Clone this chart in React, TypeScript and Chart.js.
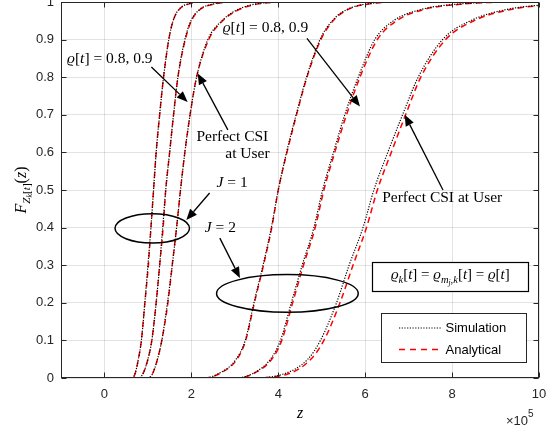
import React, { useEffect, useRef } from "react";
import { Chart, registerables } from "chart.js";
Chart.register(...registerables);

// CDF levels shared by all curves
const yLevels = [0, 0.01, 0.05, 0.1, 0.2, 0.3, 0.4, 0.5, 0.6, 0.7, 0.8, 0.9, 0.95, 0.98, 0.995, 1];
// z (x10^5) where each curve reaches the levels above
const anaJ1a = [0.62, 0.7, 0.78, 0.85, 0.93, 1.01, 1.07, 1.13, 1.19, 1.27, 1.36, 1.48, 1.58, 1.72, 1.95, 2.3];
const simJ1a = [0.62, 0.7, 0.78, 0.85, 0.93, 1.0, 1.07, 1.13, 1.19, 1.27, 1.36, 1.48, 1.58, 1.71, 1.93, 2.3];
const anaJ1b = [0.78, 0.88, 1.0, 1.09, 1.19, 1.27, 1.35, 1.41, 1.5, 1.59, 1.69, 1.86, 2.0, 2.2, 2.55, 3.0];
const simJ1b = [0.78, 0.88, 1.0, 1.09, 1.19, 1.27, 1.34, 1.41, 1.5, 1.59, 1.69, 1.85, 1.99, 2.19, 2.52, 3.0];
const anaJ1c = [1.0, 1.1, 1.22, 1.32, 1.46, 1.56, 1.66, 1.75, 1.85, 1.97, 2.12, 2.4, 2.72, 3.1, 3.55, 4.3];
const simJ1c = [1.0, 1.1, 1.22, 1.32, 1.45, 1.56, 1.66, 1.75, 1.85, 1.97, 2.12, 2.38, 2.7, 3.07, 3.5, 4.3];
const anaJ2a = [2.3, 2.62, 3.05, 3.25, 3.45, 3.66, 3.85, 4.0, 4.2, 4.42, 4.66, 4.98, 5.26, 5.6, 6.1, 6.9];
const simJ2a = [2.3, 2.6, 3.03, 3.24, 3.44, 3.65, 3.84, 4.0, 4.19, 4.41, 4.65, 4.96, 5.24, 5.58, 6.05, 6.9];
const anaJ2b = [3.0, 3.4, 3.85, 4.08, 4.33, 4.58, 4.85, 5.05, 5.3, 5.57, 5.88, 6.28, 6.72, 7.35, 8.3, 9.6];
const simJ2b = [3.0, 3.38, 3.82, 4.05, 4.3, 4.55, 4.82, 5.02, 5.27, 5.53, 5.84, 6.22, 6.65, 7.28, 8.2, 9.6];
const anaJ2c = [3.3, 4.2, 4.75, 5.05, 5.42, 5.72, 6.03, 6.28, 6.6, 6.93, 7.28, 7.85, 8.5, 9.35, 10.6, 12.0];
const simJ2c = [3.3, 4.1, 4.68, 4.97, 5.34, 5.63, 5.95, 6.2, 6.52, 6.86, 7.22, 7.78, 8.42, 9.25, 10.5, 12.0];

const xTickValues = [0, 2, 4, 6, 8, 10];
const xTickLabels = ["0", "2", "4", "6", "8", "10"];
const yTickValues = [0, 0.1, 0.2, 0.3, 0.4, 0.5, 0.6, 0.7, 0.8, 0.9, 1];
const yTickLabels = ["0", "0.1", "0.2", "0.3", "0.4", "0.5", "0.6", "0.7", "0.8", "0.9", "1"];
const legendLabels = ["Simulation", "Analytical"];

const X_MIN = -1;
const X_MAX = 10;

const SERIF = "'Liberation Serif', 'DejaVu Serif', serif";
const SANS = "'Liberation Sans', Arial, Helvetica, sans-serif";
const AXIS = "#262626";

type Seg = { t: string; i?: boolean; s?: number; dy?: number };

const rhoLabel: Seg[] = [{ t: "ϱ", i: true }, { t: "[" }, { t: "t", i: true }, { t: "] = 0.8, 0.9" }];
const j1Label: Seg[] = [{ t: "J", i: true }, { t: " = 1" }];
const j2Label: Seg[] = [{ t: "J", i: true }, { t: " = 2" }];
const boxLabel: Seg[] = [
  { t: "ϱ", i: true }, { t: "k", i: true, s: 0.7, dy: 0.22 }, { t: "[" }, { t: "t", i: true }, { t: "] = " },
  { t: "ϱ", i: true }, { t: "m", i: true, s: 0.7, dy: 0.22 }, { t: "j", i: true, s: 0.5, dy: 0.36 },
  { t: ",", s: 0.7, dy: 0.22 }, { t: "k", i: true, s: 0.7, dy: 0.22 },
  { t: "[" }, { t: "t", i: true }, { t: "] = " }, { t: "ϱ", i: true }, { t: "[" }, { t: "t", i: true }, { t: "]" },
];
const yTitle: Seg[] = [
  { t: "F", i: true }, { t: "Z", i: true, s: 0.7, dy: 0.22 }, { t: "k", i: true, s: 0.5, dy: 0.36 },
  { t: "[", s: 0.7, dy: 0.22 }, { t: "t", i: true, s: 0.7, dy: 0.22 }, { t: "]", s: 0.7, dy: 0.22 },
  { t: "(" }, { t: "z", i: true }, { t: ")" },
];

const textNotes = [
  { segs: rhoLabel, x: -0.86, y: 0.838, align: "left", size: 15.5 },
  { segs: [{ t: "Perfect CSI" }], x: 3.77, y: 0.629, align: "right", size: 15.5 },
  { segs: [{ t: "at User" }], x: 3.8, y: 0.585, align: "right", size: 15.5 },
  { segs: j1Label, x: 2.58, y: 0.508, align: "left", size: 15.5 },
  { segs: j2Label, x: 2.31, y: 0.388, align: "left", size: 15.5 },
  { segs: rhoLabel, x: 2.72, y: 0.92, align: "left", size: 15.5 },
  { segs: [{ t: "Perfect CSI at User" }], x: 6.39, y: 0.468, align: "left", size: 15.5 },
];
const arrows = [
  { x1: 1.08, y1: 0.827, x2: 1.915, y2: 0.734 },
  { x1: 2.84, y1: 0.66, x2: 2.146, y2: 0.81 },
  { x1: 2.42, y1: 0.492, x2: 1.884, y2: 0.42 },
  { x1: 2.655, y1: 0.372, x2: 3.118, y2: 0.266 },
  { x1: 4.66, y1: 0.903, x2: 5.88, y2: 0.722 },
  { x1: 7.79, y1: 0.5, x2: 6.91, y2: 0.7 },
];
const ellipses = [
  { cx: 1.1, cy: 0.398, rx: 0.857, ry: 0.039 },
  { cx: 4.21, cy: 0.225, rx: 1.63, ry: 0.05 },
];
const eqBox = { x1: 6.16, y1: 0.309, x2: 9.75, y2: 0.231, tx: 7.96, ty: 0.262 };
const legendBox = { x1: 6.375, y1: 0.172, x2: 9.71, y2: 0.043 };

function toPoints(xs: number[]) {
  const pts = [{ x: 0, y: 0 }];
  xs.forEach((x, i) => pts.push({ x, y: yLevels[i] }));
  if (xs[xs.length - 1] < X_MAX) pts.push({ x: X_MAX, y: 1 });
  return pts;
}

const segFont = (g: Seg, size: number) => `${g.i ? "italic " : ""}${(g.s || 1) * size}px ${SERIF}`;
function drawRich(ctx: CanvasRenderingContext2D, segs: Seg[], x: number, y: number, size: number, align: string) {
  let w = 0;
  for (const g of segs) { ctx.font = segFont(g, size); w += ctx.measureText(g.t).width; }
  let cx = align === "left" ? x : align === "center" ? x - w / 2 : x - w;
  ctx.textAlign = "left";
  ctx.textBaseline = "alphabetic";
  for (const g of segs) {
    ctx.font = segFont(g, size);
    ctx.fillText(g.t, cx, y + (g.dy || 0) * size);
    cx += ctx.measureText(g.t).width;
  }
}

function drawArrow(ctx: CanvasRenderingContext2D, x1: number, y1: number, x2: number, y2: number) {
  const ang = Math.atan2(y2 - y1, x2 - x1);
  const hl = 11, hw = 4.5;
  const bx = x2 - hl * Math.cos(ang), by = y2 - hl * Math.sin(ang);
  ctx.beginPath();
  ctx.moveTo(x1, y1);
  ctx.lineTo(bx, by);
  ctx.stroke();
  ctx.beginPath();
  ctx.moveTo(x2, y2);
  ctx.lineTo(bx + hw * Math.sin(ang), by - hw * Math.cos(ang));
  ctx.lineTo(bx - hw * Math.sin(ang), by + hw * Math.cos(ang));
  ctx.closePath();
  ctx.fill();
}

const overlayPlugin = {
  id: "overlay",
  afterDatasetsDraw(chart: any) {
    const { ctx, scales } = chart;
    const X = (v: number) => scales.x.getPixelForValue(v);
    const Y = (v: number) => scales.y.getPixelForValue(v);
    ctx.save();
    ctx.strokeStyle = "#000";
    ctx.lineWidth = 1.5;
    for (const e of ellipses) {
      ctx.beginPath();
      ctx.ellipse(X(e.cx), Y(e.cy), Math.abs(X(e.cx + e.rx) - X(e.cx)), Math.abs(Y(e.cy + e.ry) - Y(e.cy)), 0, 0, Math.PI * 2);
      ctx.stroke();
    }
    ctx.lineWidth = 1.3;
    ctx.fillStyle = "#000";
    for (const a of arrows) drawArrow(ctx, X(a.x1), Y(a.y1), X(a.x2), Y(a.y2));
    ctx.fillStyle = "#000";
    for (const n of textNotes) drawRich(ctx, n.segs as Seg[], X(n.x), Y(n.y), n.size, n.align);
    // equation box
    ctx.fillStyle = "#fff";
    const bx1 = Math.round(X(eqBox.x1)) + 0.5, by1 = Math.round(Y(eqBox.y1)) + 0.5;
    const bx2 = Math.round(X(eqBox.x2)) + 0.5, by2 = Math.round(Y(eqBox.y2)) + 0.5;
    ctx.fillRect(bx1, by1, bx2 - bx1, by2 - by1);
    ctx.strokeStyle = "#000";
    ctx.lineWidth = 1.2;
    ctx.strokeRect(bx1, by1, bx2 - bx1, by2 - by1);
    ctx.fillStyle = "#000";
    drawRich(ctx, boxLabel, X(eqBox.tx), Y(eqBox.ty), 15, "center");
    // legend
    const lx1 = Math.round(X(legendBox.x1)) + 0.5, ly1 = Math.round(Y(legendBox.y1)) + 0.5;
    const lx2 = Math.round(X(legendBox.x2)) + 0.5, ly2 = Math.round(Y(legendBox.y2)) + 0.5;
    ctx.fillStyle = "#fff";
    ctx.fillRect(lx1, ly1, lx2 - lx1, ly2 - ly1);
    ctx.strokeStyle = AXIS;
    ctx.lineWidth = 1;
    ctx.strokeRect(lx1, ly1, lx2 - lx1, ly2 - ly1);
    const rowY = [ly1 + 14.5, ly1 + 36];
    const styles = [
      { c: "#000", d: [1.2, 1.5], w: 1.2 },
      { c: "#ff0000", d: [6, 5], w: 1.4 },
    ];
    legendLabels.forEach((lab, i) => {
      ctx.strokeStyle = styles[i].c;
      ctx.lineWidth = styles[i].w;
      ctx.setLineDash(styles[i].d);
      ctx.beginPath();
      ctx.moveTo(lx1 + 17.5, rowY[i]);
      ctx.lineTo(lx1 + 60, rowY[i]);
      ctx.stroke();
      ctx.setLineDash([]);
      ctx.fillStyle = "#000";
      ctx.font = `13px ${SANS}`;
      ctx.textBaseline = "middle";
      ctx.textAlign = "left";
      ctx.fillText(lab, lx1 + 64, rowY[i] + 0.5);
    });
    ctx.restore();
  },
  afterDraw(chart: any) {
    const { ctx, chartArea: ca, scales } = chart;
    ctx.save();
    ctx.strokeStyle = AXIS;
    ctx.lineWidth = 1;
    const l = Math.round(ca.left) + 0.5, r = Math.round(ca.right) - 0.5;
    const t = Math.round(ca.top) + 0.5, b = Math.round(ca.bottom) - 0.5;
    ctx.strokeRect(l, t, r - l, b - t);
    const tl = 5;
    ctx.beginPath();
    for (const v of xTickValues) {
      const px = Math.round(scales.x.getPixelForValue(v)) + 0.5;
      ctx.moveTo(px, b); ctx.lineTo(px, b - tl);
      ctx.moveTo(px, t); ctx.lineTo(px, t + tl);
    }
    for (const v of yTickValues) {
      const py = Math.round(scales.y.getPixelForValue(v)) + 0.5;
      ctx.moveTo(l, py); ctx.lineTo(l + tl, py);
      ctx.moveTo(r, py); ctx.lineTo(r - tl, py);
    }
    ctx.stroke();
    ctx.fillStyle = "#000";
    drawRich(ctx, [{ t: "z", i: true }], (ca.left + ca.right) / 2, ca.bottom + 40, 16, "center");
    ctx.fillStyle = AXIS;
    ctx.font = `13px ${SANS}`;
    ctx.textAlign = "right";
    ctx.textBaseline = "alphabetic";
    ctx.fillText("×10", ca.right - 11, ca.bottom + 47);
    ctx.font = `10px ${SANS}`;
    ctx.textAlign = "left";
    ctx.fillText("5", ca.right - 11, ca.bottom + 39);
    ctx.translate(26, (ca.top + ca.bottom) / 2);
    ctx.rotate(-Math.PI / 2);
    ctx.fillStyle = "#000";
    drawRich(ctx, yTitle, 0, 0, 16, "center");
    ctx.restore();
  },
};

export default function App() {
  const ref = useRef<HTMLCanvasElement>(null);
  useEffect(() => {
    document.body.style.margin = "0";
    const series = [
      [anaJ1a, simJ1a], [anaJ1b, simJ1b], [anaJ1c, simJ1c],
      [anaJ2a, simJ2a], [anaJ2b, simJ2b], [anaJ2c, simJ2c],
    ];
    const datasets: any[] = [];
    // simulation first -> drawn on top
    series.forEach(([, sim]) => {
      datasets.push({
        label: legendLabels[0], data: toPoints(sim), borderColor: "#000000", borderWidth: 1.2,
        borderDash: [1.2, 1.5], pointRadius: 0, cubicInterpolationMode: "monotone", fill: false,
      });
    });
    series.forEach(([ana]) => {
      datasets.push({
        label: legendLabels[1], data: toPoints(ana), borderColor: "#ff0000", borderWidth: 1.5,
        borderDash: [6, 4], pointRadius: 0, cubicInterpolationMode: "monotone", fill: false,
      });
    });
    const chart = new Chart(ref.current!, {
      type: "line",
      data: { datasets },
      plugins: [overlayPlugin],
      options: {
        animation: false,
        responsive: true,
        maintainAspectRatio: false,
        events: [],
        layout: { padding: { top: 2, right: 20, left: 0, bottom: 0 } },
        plugins: { legend: { display: false }, tooltip: { enabled: false } },
        scales: {
          x: {
            type: "linear", min: X_MIN, max: X_MAX,
            afterBuildTicks: (s: any) => { s.ticks = xTickValues.map((v) => ({ value: v })); },
            afterFit: (s: any) => { s.height = 51; s.paddingLeft = 0; s.paddingRight = 0; },
            grid: { color: "rgba(38,38,38,0.13)", lineWidth: 1, drawTicks: false },
            border: { display: false },
            ticks: {
              padding: 9, color: AXIS, autoSkip: false, maxRotation: 0,
              font: { family: SANS, size: 13 },
              callback: (_v: any, i: number) => xTickLabels[i],
            },
          },
          y: {
            type: "linear", min: 0, max: 1,
            afterBuildTicks: (s: any) => { s.ticks = yTickValues.map((v) => ({ value: v })); },
            afterFit: (s: any) => { s.width = 61; s.paddingTop = 0; s.paddingBottom = 0; },
            grid: { color: "rgba(38,38,38,0.13)", lineWidth: 1, drawTicks: false },
            border: { display: false },
            ticks: {
              padding: 7, color: AXIS, autoSkip: false,
              font: { family: SANS, size: 13 },
              callback: (_v: any, i: number) => yTickLabels[i],
            },
          },
        },
      } as any,
    });
    return () => chart.destroy();
  }, []);
  return (
    <div style={{ width: 559, height: 429, position: "relative" }}>
      <canvas ref={ref} />
    </div>
  );
}
